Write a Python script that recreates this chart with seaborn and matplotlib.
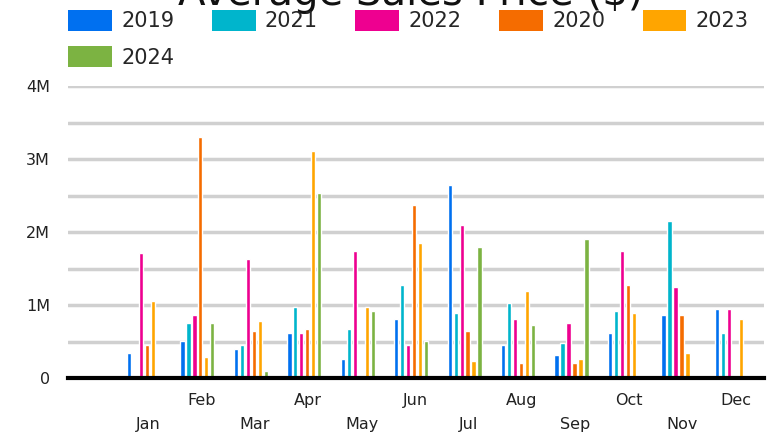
import numpy as np
import pandas as pd
import seaborn as sns
import matplotlib.pyplot as plt
from matplotlib.patches import Patch

# Values (in millions of $), NaN = no bar
months = ['Jan', 'Feb', 'Mar', 'Apr', 'May', 'Jun', 'Jul', 'Aug', 'Sep', 'Oct', 'Nov', 'Dec']
years = ['2019', '2021', '2022', '2020', '2023', '2024']
nan = np.nan
price_2019 = [0.347, 0.511, 0.402, 0.621, 0.265, 0.813, 2.648, 0.457, 0.320, 0.621, 0.868, 0.950]
price_2021 = [nan, 0.758, 0.457, 0.977, 0.676, 1.279, 0.895, 1.032, 0.484, 0.922, 2.155, 0.621]
price_2022 = [1.717, 0.868, 1.635, 0.621, 1.744, 0.457, 2.100, 0.813, 0.758, 1.744, 1.251, 0.950]
price_2020 = [0.457, 3.306, 0.648, 0.676, nan, 2.374, 0.648, 0.210, 0.210, 1.279, 0.868, nan]
price_2023 = [1.060, 0.292, 0.785, 3.114, 0.977, 1.854, 0.237, 1.196, 0.265, 0.895, 0.347, 0.813]
price_2024 = [nan, 0.758, 0.100, 2.539, 0.922, 0.511, 1.799, 0.731, 1.909, nan, nan, nan]
y_tick_labels = ['0', '', '1M', '', '2M', '', '3M', '', '4M']

colours = {'2019': '#0070f0', '2021': '#00b5cc', '2022': '#ee0090',
           '2020': '#f56c00', '2023': '#ffa500', '2024': '#7cb342'}

# Build a long table for seaborn
series = [price_2019, price_2021, price_2022, price_2020, price_2023, price_2024]
rows = []
for year, vals in zip(years, series):
    for m, v in zip(months, vals):
        rows.append({'month': m, 'year': year, 'price': v * 1e6})
df = pd.DataFrame(rows).dropna()

sns.set_style('white')
plt.rcParams['font.family'] = ['DejaVu Sans']

fig = plt.figure(figsize=(7.74, 4.34), dpi=100)
ax = fig.add_axes([68 / 774, 56 / 434, 696 / 774, 292 / 434])

sns.barplot(data=df, x='month', y='price', hue='year', order=months,
            hue_order=years, palette=colours, width=0.67, gap=0.28,
            errorbar=None, saturation=1, legend=False, ax=ax)

ax.set_xlim(-1.42, 11.6)
ax.set_ylim(0, 4e6)
ax.set_yticks(np.arange(0, 4.5e6, 0.5e6))
ax.set_yticklabels(y_tick_labels)
ax.grid(axis='y', color='#d0d0d0', linewidth=2.5)
ax.set_axisbelow(True)
ax.tick_params(axis='y', length=0, pad=13, labelsize=11.5, labelcolor='#222222')

# staggered month labels: odd months up, even months down
pos = np.arange(len(months)) + 0.075
ax.set_xticks(pos[1::2])
ax.set_xticklabels(months[1::2])
ax.set_xticks(pos[0::2], minor=True)
ax.set_xticklabels(months[0::2], minor=True)
ax.tick_params(axis='x', which='major', length=0, pad=10.5, labelsize=11.5, labelcolor='#222222')
ax.tick_params(axis='x', which='minor', length=0, pad=28, labelsize=11.5, labelcolor='#222222')
ax.set_xlabel('')
ax.set_ylabel('')

for side in ['top', 'right', 'left']:
    ax.spines[side].set_visible(False)
ax.spines['bottom'].set_color('black')
ax.spines['bottom'].set_linewidth(3)

fig.text(411 / 774, 1 - 4.5 / 434, 'Average Sales Price ($)', ha='center',
         va='baseline', fontsize=29, color='#111111')

# legend fills column by column, so order it to read row by row
leg_order = ['2019', '2024', '2021', '2022', '2020', '2023']
handles = [Patch(facecolor=colours[y], edgecolor='none') for y in leg_order]
fig.legend(handles, leg_order, loc='upper left', bbox_to_anchor=(68 / 774, 1 - 10 / 434),
           ncol=5, frameon=False, fontsize=15, handlelength=2.1, handleheight=1.15,
           handletextpad=0.45, columnspacing=1.8, labelspacing=0.72, borderpad=0,
           borderaxespad=0)

plt.savefig('out.png', dpi=100)
plt.close()
